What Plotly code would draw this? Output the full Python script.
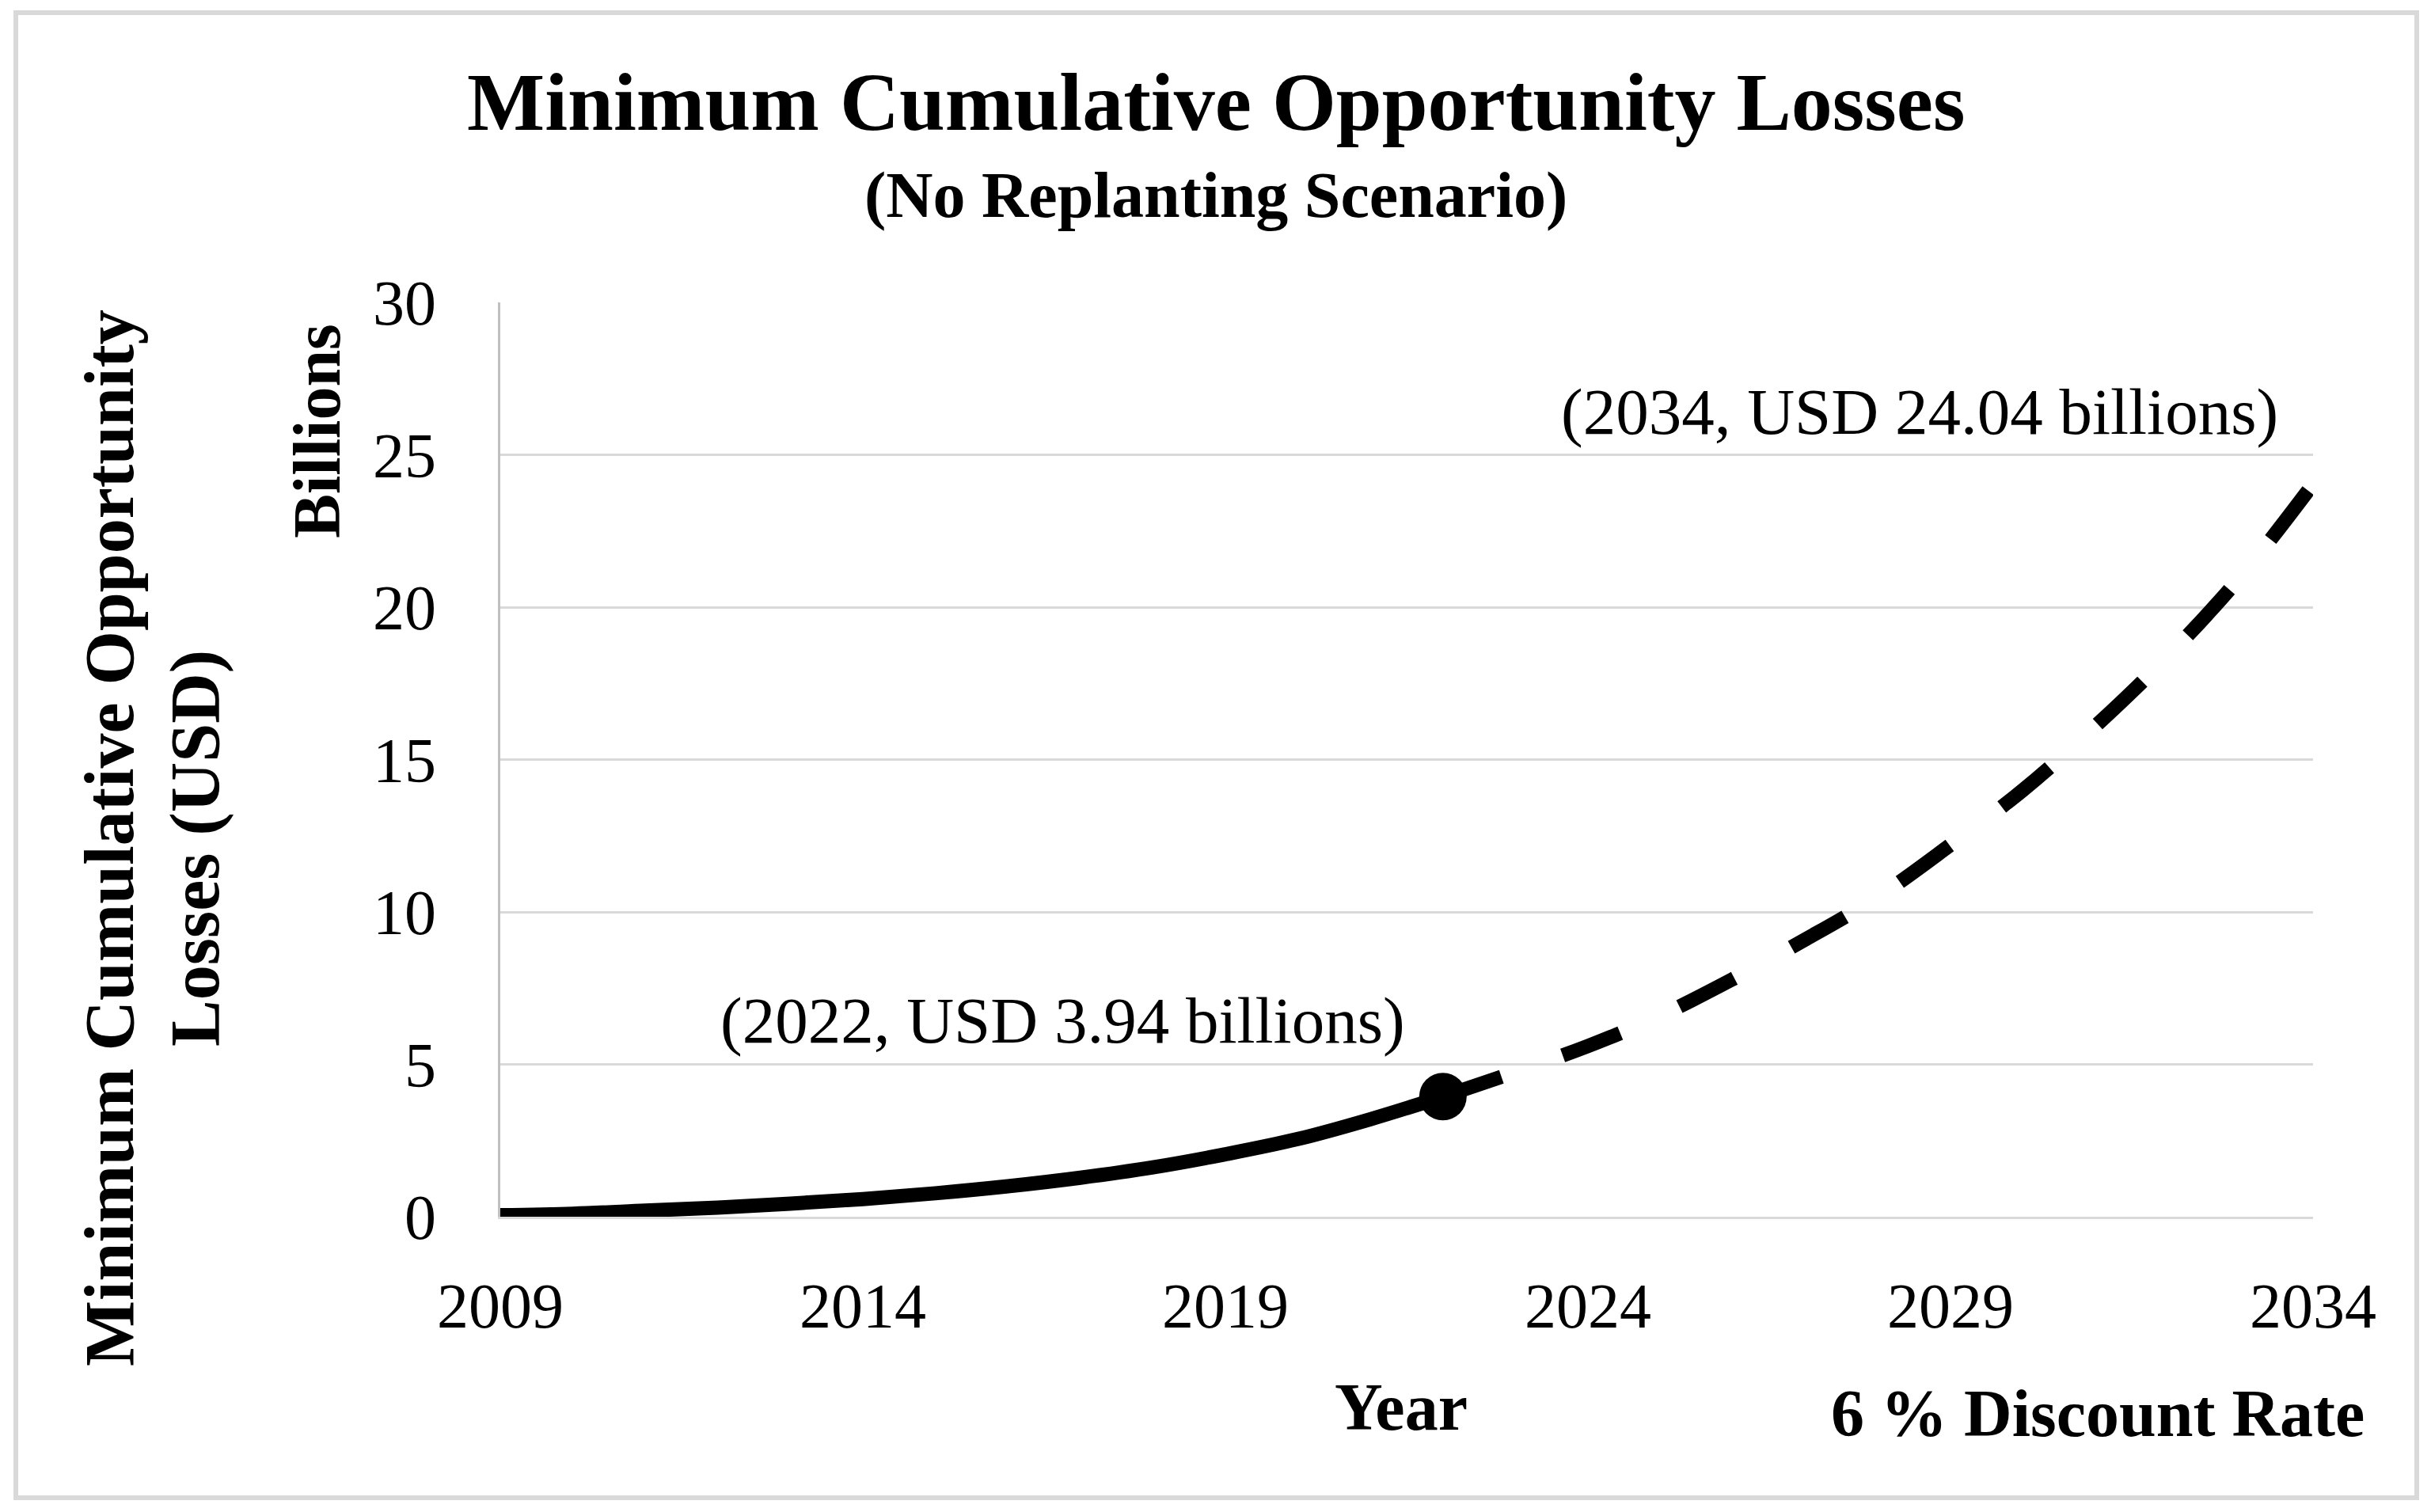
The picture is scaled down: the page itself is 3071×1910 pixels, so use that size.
import plotly.graph_objects as go

# ---- data ----
years_actual = [2009, 2010, 2011, 2012, 2013, 2014, 2015, 2016, 2017, 2018, 2019, 2020, 2021, 2022]
loss_actual = [0.05, 0.1, 0.2, 0.3, 0.43, 0.58, 0.77, 1.0, 1.28, 1.62, 2.05, 2.55, 3.2, 3.94]

years_proj = [2022, 2023, 2024, 2025, 2026, 2027, 2028, 2029, 2030, 2031, 2032, 2033, 2034]
loss_proj = [3.94, 4.75, 5.6, 6.6, 7.8, 9.1, 10.5, 12.2, 14.0, 16.1, 18.4, 21.0, 24.04]

x_ticks = [2009, 2014, 2019, 2024, 2029, 2034]
y_ticks = [0, 5, 10, 15, 20, 25, 30]

title = "Minimum Cumulative Opportunity Losses"
subtitle = "(No Replanting Scenario)"
label_2022 = "(2022, USD 3.94 billions)"
label_2034 = "(2034, USD 24.04 billions)"

# ---- layout geometry (pixels) ----
W, H = 3071, 1910
L, R, T, B = 632, 2922, 382, 1537
PW, PH = R - L, B - T


def px(x, y):
    return (x - L) / PW, (B - y) / PH


FONT = "Liberation Serif, Times New Roman, serif"

fig = go.Figure()
fig.add_trace(go.Scatter(
    x=years_proj, y=loss_proj, mode="lines",
    line=dict(color="black", width=18, dash="78px,82px", shape="spline"),
    showlegend=False, hoverinfo="skip"))
fig.add_trace(go.Scatter(
    x=years_actual, y=loss_actual, mode="lines",
    line=dict(color="black", width=18, shape="spline"),
    showlegend=False, hoverinfo="skip"))
fig.add_trace(go.Scatter(
    x=[years_actual[-1]], y=[loss_actual[-1]], mode="markers",
    marker=dict(color="black", size=60),
    showlegend=False, hoverinfo="skip"))

ann = []


def add_text(text, x, y, size, bold=False, angle=0):
    ax, ay = px(x, y)
    ann.append(dict(
        text=f"<b>{text}</b>" if bold else text,
        x=ax, y=ay, xref="paper", yref="paper",
        xanchor="center", yanchor="middle", showarrow=False,
        textangle=angle, font=dict(family=FONT, size=size, color="black")))


add_text(title, 1536, 128, 104, bold=True)
add_text(subtitle, 1536, 246, 82, bold=True)
add_text("Minimum Cumulative Opportunity", 138, 1059, 88, bold=True, angle=-90)
add_text("Losses (USD)", 246, 1072, 88, bold=True, angle=-90)
add_text("Billions", 400, 545, 84, bold=True, angle=-90)
add_text("Year", 1770, 1777, 84, bold=True)
add_text("6 % Discount Rate", 2650, 1785, 84, bold=True)
add_text(label_2022, 1342, 1289, 83)
add_text(label_2034, 2425, 520, 83)

bx0, by0 = px(20, 1892)
bx1, by1 = px(3053, 16)

fig.update_layout(
    width=W, height=H,
    margin=dict(l=L, r=W - R, t=T, b=H - B, pad=0),
    paper_bgcolor="white", plot_bgcolor="white",
    annotations=ann,
    shapes=[dict(type="rect", xref="paper", yref="paper",
                 x0=bx0, y0=by0, x1=bx1, y1=by1,
                 line=dict(color="#D9D9D9", width=6), fillcolor="rgba(0,0,0,0)",
                 layer="below")],
    xaxis=dict(range=[2009, 2034], tickvals=x_ticks, ticktext=[str(v) for v in x_ticks],
               showgrid=False, zeroline=False, showline=True, linecolor="#D9D9D9", linewidth=3,
               ticks="", ticklabelstandoff=41,
               tickfont=dict(family=FONT, size=80, color="black")),
    yaxis=dict(range=[0, 30], tickvals=y_ticks, ticktext=[str(v) for v in y_ticks],
               showgrid=True, gridcolor="#D9D9D9", gridwidth=3,
               zeroline=False, showline=True, linecolor="#BFBFBF", linewidth=3,
               ticks="", ticklabelstandoff=62,
               tickfont=dict(family=FONT, size=80, color="black")),
)

fig.write_html("out.html", config={"displayModeBar": False},
               post_script="document.body.style.margin='0';document.body.style.overflow='hidden';")
